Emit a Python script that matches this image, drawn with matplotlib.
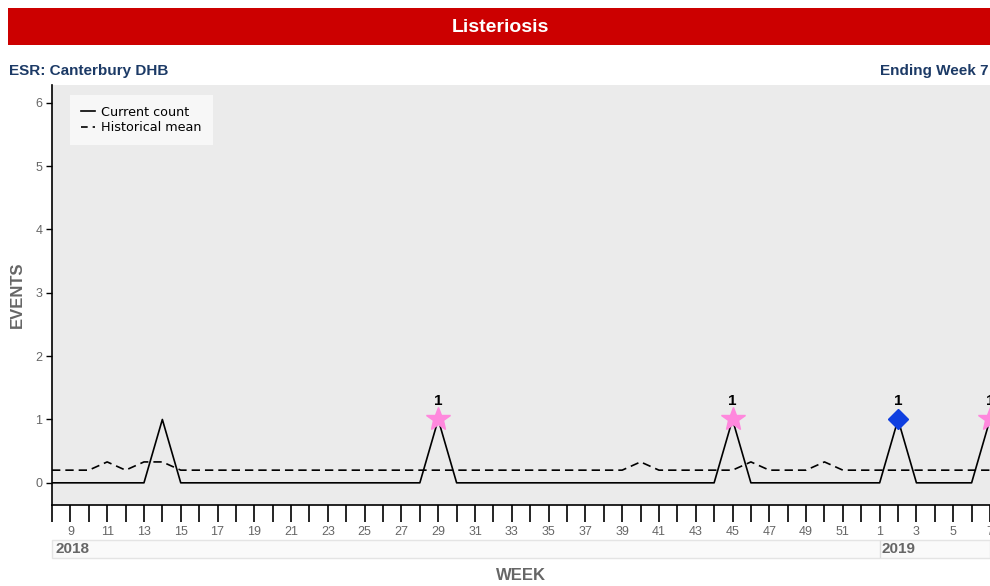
import matplotlib
matplotlib.use("Agg")
import matplotlib.pyplot as plt
from matplotlib.lines import Line2D
from matplotlib.patches import Rectangle

# ---- data ----
week_numbers = list(range(8, 53)) + list(range(1, 8))
years = ["2018"] * 45 + ["2019"] * 7
current_count = [0, 0, 0, 0, 0, 0, 1, 0, 0, 0, 0, 0, 0, 0, 0, 0, 0, 0, 0, 0, 0, 1, 0, 0, 0, 0,
                 0, 0, 0, 0, 0, 0, 0, 0, 0, 0, 0, 1, 0, 0, 0, 0, 0, 0, 0, 0, 1, 0, 0, 0, 0, 1]
historical_mean = [0.2, 0.2, 0.2, 0.33, 0.2, 0.33, 0.33, 0.2, 0.2, 0.2, 0.2, 0.2, 0.2, 0.2, 0.2, 0.2,
                   0.2, 0.2, 0.2, 0.2, 0.2, 0.2, 0.2, 0.2, 0.2, 0.2, 0.2, 0.2, 0.2, 0.2, 0.2, 0.2,
                   0.33, 0.2, 0.2, 0.2, 0.2, 0.2, 0.33, 0.2, 0.2, 0.2, 0.33, 0.2, 0.2, 0.2, 0.2,
                   0.2, 0.2, 0.2, 0.2, 0.2]
# flags: "star" = pink star, "diamond" = blue diamond, "" = none
flags = [""] * 52
flags[21] = "star"
flags[37] = "star"
flags[46] = "diamond"
flags[51] = "star"

title = "Listeriosis"
left_sub = "ESR: Canterbury DHB"
right_sub = "Ending Week 7"

fam = ["Liberation Sans Narrow", "Liberation Sans", "DejaVu Sans"]
plt.rcParams["font.family"] = fam

W, H = 990, 586
fig = plt.figure(figsize=(W / 100, H / 100), dpi=100)
fig.patch.set_facecolor("white")

def fx(px):
    return px / W

def fy(py):
    return 1 - py / H

# banner
fig.patches.append(Rectangle((fx(8), fy(45)), fx(990 - 8), (45 - 8) / H,
                             transform=fig.transFigure, facecolor="#cc0000",
                             edgecolor="none", zorder=0))
fig.text(fx(500), fy(27), title, color="white", fontsize=14, fontweight="bold",
         ha="center", va="center")
fig.text(fx(9), fy(71), left_sub, color="#1c3a66", fontsize=11, fontweight="bold",
         ha="left", va="center")
fig.text(fx(988), fy(71), right_sub, color="#1c3a66", fontsize=11, fontweight="bold",
         ha="right", va="center")

# year band (drawn below axes)
fig.patches.append(Rectangle((fx(52), fy(558)), fx(990 - 52), (558 - 540) / H,
                             transform=fig.transFigure, facecolor="#fafafa",
                             edgecolor="#e4e4e4", lw=1, zorder=0))

# axes
ax_l, ax_r, ax_t, ax_b = 52, 990, 85, 505
ax = fig.add_axes([fx(ax_l), fy(ax_b), fx(ax_r - ax_l), (ax_b - ax_t) / H])
ax.set_facecolor("#ebebeb")

x = list(range(len(week_numbers)))
ax.plot(x, historical_mean, color="black", lw=1.2, ls=(0, (5, 3)), zorder=2)
ax.plot(x, current_count, color="black", lw=1.2, zorder=3)

for i, f in enumerate(flags):
    if f == "star":
        ax.plot(x[i], current_count[i], marker="*", ms=18, color="#ff88dd",
                markeredgecolor="#ff88dd", zorder=4)
    elif f == "diamond":
        ax.plot(x[i], current_count[i], marker="D", ms=10, color="#0f3fe0",
                markeredgecolor="#0f3fe0", zorder=4)
    if f:
        ax.annotate(str(current_count[i]), (x[i], current_count[i]), xytext=(0, 8),
                    textcoords="offset points", ha="center", va="bottom",
                    fontsize=11, fontweight="bold", color="black", zorder=5)

ax.set_xlim(0, 51)
ax.set_ylim(-0.35, 6.28)

ax.set_xticks(x)
ax.set_xticklabels([str(w) if w % 2 == 1 else "" for w in week_numbers])
ax.tick_params(axis="x", direction="out", length=12, width=1.2, color="black",
               labelsize=9, labelcolor="#666666", pad=3)
ax.set_yticks(range(0, 7))
ax.tick_params(axis="y", direction="out", length=4, width=1, color="black",
               labelsize=9, labelcolor="#666666", pad=3)

for s in ["top", "right"]:
    ax.spines[s].set_visible(False)
ax.spines["left"].set_color("black")
ax.spines["left"].set_linewidth(1.2)
ax.spines["bottom"].set_color("black")
ax.spines["bottom"].set_linewidth(1.2)

# year divider and labels, positions from the data scale
i2019 = years.index("2019")
x2019_px = ax_l + (x[i2019] - 0) / 51 * (ax_r - ax_l)
fig.lines.append(Line2D([fx(x2019_px), fx(x2019_px)], [fy(541), fy(557)],
                        transform=fig.transFigure, color="#dddddd", lw=1))
fig.text(fx(56), fy(549), years[0], color="#666666", fontsize=11, fontweight="bold",
         ha="left", va="center")
fig.text(fx(x2019_px + 2), fy(549), years[i2019], color="#666666", fontsize=11,
         fontweight="bold", ha="left", va="center")

fig.text(fx(521), fy(575), "WEEK", color="#666666", fontsize=12, fontweight="bold",
         ha="center", va="center")
fig.text(fx(17), fy(295), "EVENTS", color="#666666", fontsize=12, fontweight="bold",
         ha="center", va="center", rotation=90)

handles = [Line2D([], [], color="black", lw=1.2),
           Line2D([], [], color="black", lw=1.2, ls=(0, (4, 3)))]
leg = ax.legend(handles, ["Current count", "Historical mean"], loc="upper left",
                bbox_to_anchor=((70 - ax_l) / (ax_r - ax_l), 1 - (95 - ax_t) / (ax_b - ax_t)),
                frameon=True, fancybox=False, handlelength=1.1,
                handletextpad=0.5, borderpad=0.85, labelspacing=0.2, borderaxespad=0,
                prop={"family": ["DejaVu Sans"], "size": 9.2})
leg.get_frame().set_facecolor("#f7f7f7")
leg.get_frame().set_edgecolor("none")
leg.get_frame().set_alpha(1)

fig.savefig("out.png", dpi=100)
